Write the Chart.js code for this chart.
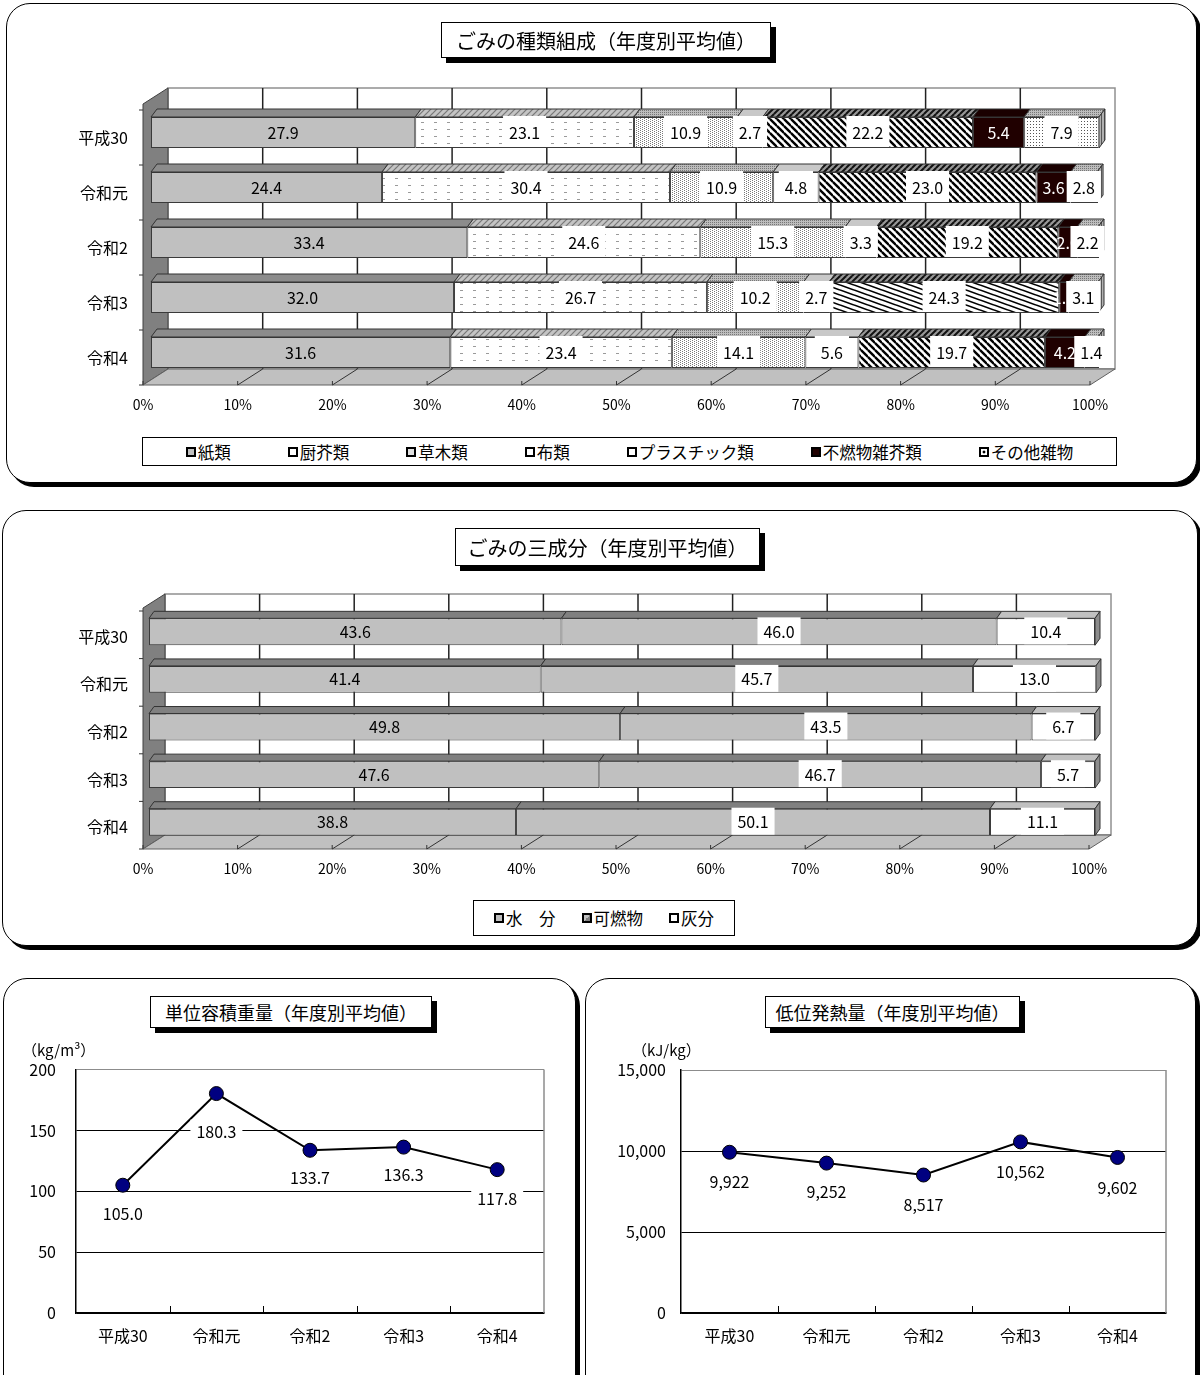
<!DOCTYPE html>
<html lang="ja">
<head>
<meta charset="utf-8">
<title>ごみ質分析結果</title>
<script src="https://cdn.jsdelivr.net/npm/chart.js@4.4.1/dist/chart.umd.min.js"></script>
<style>
  html, body { margin: 0; padding: 0; background: #fff; }
  body { width: 1200px; height: 1375px; position: relative; overflow: hidden;
         font-family: "Noto Sans CJK JP", "Noto Sans", sans-serif; color: #000; }
  .panel { position: absolute; border: 1px solid #000; border-radius: 24px;
           box-shadow: 4px 4px 0 #000; background: #fff; box-sizing: border-box; }
  canvas { position: absolute; }
  .title { position: absolute; border: 1px solid #000; background: #fff; box-shadow: 5px 5px 0 #000;
           box-sizing: border-box; display: flex; align-items: center; justify-content: center;
           white-space: nowrap; z-index: 5; }
  .legend { position: absolute; border: 1px solid #000; box-sizing: border-box; background: #fff;
            display: flex; align-items: center; justify-content: center; font-size: 16.5px; z-index: 5; }
  .li { display: flex; align-items: center; white-space: nowrap; }
  .mk { display: inline-block; width: 6px; height: 6px; border: 2px solid #000; margin-right: 2px; background: #fff; }
  .unit { position: absolute; font-size: 15px; white-space: nowrap; }
</style>
</head>
<body>

<div class="panel" style="left:6px;top:3px;width:1191px;height:480px;"></div>
<div class="panel" style="left:2px;top:510px;width:1196px;height:436px;"></div>
<div class="panel" style="left:3px;top:978px;width:573px;height:430px;"></div>
<div class="panel" style="left:585px;top:978px;width:611px;height:430px;"></div>

<canvas id="comp" width="1200" height="430" style="left:0;top:0;"></canvas>
<canvas id="three" width="1200" height="330" style="left:0;top:560px;"></canvas>
<canvas id="dens" width="578" height="320" style="left:0;top:1040px;"></canvas>
<canvas id="heat" width="618" height="320" style="left:580px;top:1040px;"></canvas>

<div class="title" style="left:441px;top:22px;width:330px;height:36px;font-size:20px;">ごみの種類組成（年度別平均値）</div>
<div class="title" style="left:455px;top:528px;width:305px;height:38px;font-size:20px;">ごみの三成分（年度別平均値）</div>
<div class="title" style="left:150px;top:996px;width:282px;height:32px;font-size:18px;">単位容積重量（年度別平均値）</div>
<div class="title" style="left:765px;top:996px;width:255px;height:32px;font-size:18px;">低位発熱量（年度別平均値）</div>

<div class="legend" style="left:142px;top:437px;width:975px;height:29px;gap:57px;">
  <span class="li"><span class="mk" style="background:#c0c0c0"></span>紙類</span>
  <span class="li"><span class="mk"></span>厨芥類</span>
  <span class="li"><span class="mk" style="background:#e0e0e0"></span>草木類</span>
  <span class="li"><span class="mk"></span>布類</span>
  <span class="li"><span class="mk"></span>プラスチック類</span>
  <span class="li"><span class="mk" style="background:#200000"></span>不燃物雑芥類</span>
  <span class="li"><span class="mk" style="background:radial-gradient(#000 30%, #fff 40%)"></span>その他雑物</span>
</div>
<div class="legend" style="left:473px;top:900px;width:262px;height:36px;gap:26px;">
  <span class="li"><span class="mk" style="background:#c0c0c0"></span>水　分</span>
  <span class="li"><span class="mk" style="background:linear-gradient(135deg,#c0c0c0 50%,#808080 50%)"></span>可燃物</span>
  <span class="li"><span class="mk"></span>灰分</span>
</div>

<div class="unit" style="left:22px;top:1039px;">（kg/m³）</div>
<div class="unit" style="left:632px;top:1039px;">（kJ/kg）</div>

<script>
// ---- data ----
const years = ['平成30', '令和元', '令和2', '令和3', '令和4'];

// composition by type (%)
const paper    = [27.9, 24.4, 33.4, 32.0, 31.6];
const kitchen  = [23.1, 30.4, 24.6, 26.7, 23.4];
const grass    = [10.9, 10.9, 15.3, 10.2, 14.1];
const cloth    = [2.7, 4.8, 3.3, 2.7, 5.6];
const plastic  = [22.2, 23.0, 19.2, 24.3, 19.7];
const noncomb  = [5.4, 3.6, 2.0, 1.0, 4.2];
const others   = [7.9, 2.8, 2.2, 3.1, 1.4];

// three components (%)
const moisture    = [43.6, 41.4, 49.8, 47.6, 38.8];
const combustible = [46.0, 45.7, 43.5, 46.7, 50.1];
const ash         = [10.4, 13.0, 6.7, 5.7, 11.1];

// bulk density (kg/m3) and lower heating value (kJ/kg)
const density = [105.0, 180.3, 133.7, 136.3, 117.8];
const heatValue = [9922, 9252, 8517, 10562, 9602];

const pctTicks = [0, 10, 20, 30, 40, 50, 60, 70, 80, 90, 100];

// ---- common ----
const FONT = '"Noto Sans CJK JP", "Noto Sans", sans-serif';
Chart.defaults.font.family = FONT;
Chart.defaults.color = '#000';

function tile(w, h, bg, draw) {
  const c = document.createElement('canvas');
  c.width = w; c.height = h;
  const g = c.getContext('2d');
  if (bg) { g.fillStyle = bg; g.fillRect(0, 0, w, h); }
  draw(g);
  return g.createPattern(c, 'repeat');
}
function stripes(w, h, lw, color, bg, up) {
  return tile(w, h, bg, g => {
    g.strokeStyle = color; g.lineWidth = lw;
    for (const [ox, oy] of [[0, 0], [-w, 0], [w, 0], [0, -h], [0, h]]) {
      g.beginPath();
      if (up) { g.moveTo(ox, oy + h); g.lineTo(ox + w, oy); }
      else { g.moveTo(ox, oy); g.lineTo(ox + w, oy + h); }
      g.stroke();
    }
  });
}
const dashFill = tile(13, 7, '#fff', g => { g.fillStyle = '#9a9a9a'; g.fillRect(5, 3, 3, 1); });
const speckle = tile(4, 2, '#fff', g => { g.fillStyle = '#7a7a7a'; g.fillRect(0, 0, 1, 1); g.fillRect(2, 1, 1, 1); });
const dotGrid = tile(3, 3, '#fff', g => { g.fillStyle = '#555'; g.fillRect(1, 1, 1, 1); });
const diag = stripes(7, 7, 2.4, '#000', '#fff', false);
const diagFlat = stripes(14, 5, 1.6, '#000', '#fff', false);
const topDash = stripes(6, 6, 1.2, '#777', '#c4c4c4', true);
const topSpeck = tile(2, 2, '#bdbdbd', g => { g.fillStyle = '#777'; g.fillRect(0, 0, 1, 1); });
const topDiag = stripes(6, 6, 2, '#111', '#999', true);
const endStripe = tile(3, 1, '#b0b0b0', g => { g.fillStyle = '#555'; g.fillRect(0, 0, 1, 1); });

// 3D box look for stacked horizontal bars: back wall, left wall, floor, bar tops/ends, value labels
function make3d(cfg) {
  return {
    id: 'box3d',
    beforeDatasetsDraw(chart) {
      const { ctx, chartArea: a, scales: { x } } = chart;
      const fx = v => x.getPixelForValue(v) - cfg.front;
      const yF = a.bottom + cfg.floorDrop;
      const yB = yF - cfg.dy;
      const yT = a.top - cfg.wallRise;
      const x0 = fx(0), x1 = fx(100), dx = cfg.dx;
      const poly = (pts, fill, stroke) => {
        ctx.beginPath();
        pts.forEach(([px, py], i) => i ? ctx.lineTo(px, py) : ctx.moveTo(px, py));
        ctx.closePath();
        ctx.fillStyle = fill; ctx.fill();
        ctx.strokeStyle = stroke; ctx.stroke();
      };
      ctx.save();
      ctx.lineWidth = 1;
      // back wall
      ctx.fillStyle = '#fff';
      ctx.fillRect(x0 + dx, yT, x1 - x0, yB - yT);
      ctx.strokeStyle = '#909090'; ctx.lineWidth = 1.5;
      ctx.strokeRect(x0 + dx, yT, x1 - x0, yB - yT);
      ctx.strokeStyle = '#222'; ctx.lineWidth = 1.5;
      pctTicks.forEach(v => {
        if (v === 0 || v === 100) return;
        const gx = fx(v) + dx;
        ctx.beginPath(); ctx.moveTo(gx, yT); ctx.lineTo(gx, yB); ctx.stroke();
      });
      ctx.lineWidth = 1;
      // left wall
      poly([[x0, yT + cfg.dy], [x0 + dx, yT], [x0 + dx, yB], [x0, yF]], '#808080', '#404040');
      // floor
      poly([[x0, yF], [x1, yF], [x1 + dx, yB], [x0 + dx, yB]], '#c0c0c0', '#606060');
      ctx.strokeStyle = '#333';
      pctTicks.forEach(v => {
        if (v === 0 || v === 100) return;
        ctx.beginPath(); ctx.moveTo(fx(v), yF); ctx.lineTo(fx(v) + dx, yB); ctx.stroke();
      });
      pctTicks.forEach(v => {
        ctx.beginPath(); ctx.moveTo(fx(v), yF - 4); ctx.lineTo(fx(v), yF); ctx.stroke();
      });
      // ticks on the left wall edge at category boundaries
      const n = chart.data.labels.length, step = a.height / n;
      for (let i = 0; i <= n; i++) {
        const ty = a.top + i * step + cfg.floorDrop;
        ctx.beginPath(); ctx.moveTo(x0 - 4, ty); ctx.lineTo(x0, ty); ctx.stroke();
      }
      ctx.restore();
    },
    afterDatasetsDraw(chart) {
      const { ctx } = chart;
      const sets = chart.data.datasets;
      const last = sets.length - 1;
      ctx.save();
      ctx.lineWidth = 1;
      ctx.strokeStyle = '#333';
      // top faces and right end faces
      sets.forEach((ds, d) => {
        chart.getDatasetMeta(d).data.forEach(el => {
          const p = el.getProps(['x', 'y', 'base', 'height'], true);
          const l = Math.min(p.x, p.base), r = Math.max(p.x, p.base);
          const t = p.y - p.height / 2, b = p.y + p.height / 2;
          ctx.beginPath();
          ctx.moveTo(l, t); ctx.lineTo(r, t); ctx.lineTo(r + cfg.bdx, t - cfg.bdy); ctx.lineTo(l + cfg.bdx, t - cfg.bdy);
          ctx.closePath();
          ctx.fillStyle = cfg.topFill[d]; ctx.fill(); ctx.stroke();
          if (d === last) {
            ctx.beginPath();
            ctx.moveTo(r, t); ctx.lineTo(r + cfg.bdx, t - cfg.bdy); ctx.lineTo(r + cfg.bdx, b - cfg.bdy); ctx.lineTo(r, b);
            ctx.closePath();
            ctx.fillStyle = cfg.endFill; ctx.fill(); ctx.stroke();
          }
        });
      });
      // value labels
      ctx.font = '16px ' + FONT;
      ctx.textAlign = 'center';
      ctx.textBaseline = 'middle';
      sets.forEach((ds, d) => {
        chart.getDatasetMeta(d).data.forEach((el, i) => {
          const p = el.getProps(['x', 'y', 'base', 'height'], true);
          const cx = (p.x + p.base) / 2;
          const txt = ds.data[i].toFixed(1);
          const tw = ctx.measureText(txt).width;
          if (cfg.boxed[d]) {
            ctx.fillStyle = '#fff';
            ctx.fillRect(cx - tw / 2 - 6, p.y - p.height / 2 - 1, tw + 12, p.height);
          }
          ctx.fillStyle = cfg.textColor[d];
          ctx.fillText(txt, cx, p.y);
        });
      });
      ctx.restore();
    }
  };
}

function pctScales(yWidth, labelOff, tickPad, yPad) {
  return {
    x: {
      stacked: true, min: 0, max: 100,
      ticks: { stepSize: 10, callback: v => v + '%', labelOffset: -labelOff, padding: tickPad,
               font: { size: 14 }, maxRotation: 0, autoSkip: false },
      grid: { display: false, drawTicks: false },
      border: { display: false },
      afterFit: s => { s.height = 30; }
    },
    y: {
      stacked: true,
      ticks: { labelOffset: 5, padding: yPad, font: { size: 16 } },
      grid: { display: false, drawTicks: false },
      border: { display: false },
      afterFit: s => { s.width = yWidth; }
    }
  };
}

function barSet(label, data, bg, barPct) {
  return { label, data, backgroundColor: bg, borderColor: '#3a3a3a', borderWidth: 1,
           borderSkipped: false, barPercentage: barPct, categoryPercentage: 1 };
}

// ---- chart 1: composition by type ----
const compPct = 31 / 55;
new Chart(document.getElementById('comp'), {
  type: 'bar',
  data: {
    labels: years,
    datasets: [
      barSet('紙類', paper, '#c0c0c0', compPct),
      barSet('厨芥類', kitchen, dashFill, compPct),
      barSet('草木類', grass, speckle, compPct),
      barSet('布類', cloth, '#ffffff', compPct),
      barSet('プラスチック類', plastic, [diag, diag, diag, diagFlat, diag], compPct),
      barSet('不燃物雑芥類', noncomb, '#200000', compPct),
      barSet('その他雑物', others, dotGrid, compPct)
    ]
  },
  options: {
    indexAxis: 'y', responsive: false, animation: false,
    layout: { padding: { left: 10, right: 102, top: 105, bottom: 20 } },
    plugins: { legend: { display: false }, tooltip: { enabled: false } },
    scales: pctScales(141, 8, 16, 23)
  },
  plugins: [make3d({
    front: 8, dx: 25, dy: 16, floorDrop: 5, wallRise: 17, bdx: 6, bdy: 8,
    topFill: ['#8c8c8c', topDash, topSpeck, '#c8c8c8', topDiag, '#1a0000', topSpeck],
    endFill: endStripe,
    boxed: [false, true, true, true, true, false, true],
    textColor: ['#000', '#000', '#000', '#000', '#000', '#fff', '#000']
  })]
});

// ---- chart 2: three components ----
const threePct = 27 / 47.7;
new Chart(document.getElementById('three'), {
  type: 'bar',
  data: {
    labels: years,
    datasets: [
      barSet('水分', moisture, '#c0c0c0', threePct),
      barSet('可燃物', combustible, '#c0c0c0', threePct),
      barSet('灰分', ash, '#ffffff', threePct)
    ]
  },
  options: {
    indexAxis: 'y', responsive: false, animation: false,
    layout: { padding: { left: 10, right: 105, top: 48, bottom: 14 } },
    plugins: { legend: { display: false }, tooltip: { enabled: false } },
    scales: pctScales(139, 6, 14, 21)
  },
  plugins: [make3d({
    front: 6, dx: 22, dy: 14, floorDrop: 3, wallRise: 14, bdx: 5, bdy: 7,
    topFill: ['#808080', '#808080', '#c0c0c0'],
    endFill: '#8c8c8c',
    boxed: [false, true, true],
    textColor: ['#000', '#000', '#000']
  })]
});

// ---- line charts ----
function makeLineDecor(fmt, drop) {
  return {
    id: 'lineDecor',
    afterDatasetsDraw(chart) {
      const { ctx, chartArea: a } = chart;
      ctx.save();
      ctx.strokeStyle = '#8c8c8c'; ctx.lineWidth = 1.5;
      ctx.beginPath(); ctx.moveTo(a.right, a.top); ctx.lineTo(a.right, a.bottom); ctx.stroke();
      ctx.strokeStyle = '#000'; ctx.lineWidth = 1;
      const n = chart.data.labels.length, w = a.width / n;
      for (let i = 1; i < n; i++) {
        const tx = Math.round(a.left + i * w) + 0.5;
        ctx.beginPath(); ctx.moveTo(tx, a.bottom); ctx.lineTo(tx, a.bottom - 7); ctx.stroke();
      }
      const meta = chart.getDatasetMeta(0);
      const data = chart.data.datasets[0].data;
      ctx.font = '16px ' + FONT;
      ctx.textAlign = 'center';
      ctx.textBaseline = 'middle';
      meta.data.forEach((pt, i) => {
        const txt = fmt(data[i]);
        const tw = ctx.measureText(txt).width;
        const ly = pt.y + drop[i];
        ctx.fillStyle = '#fff';
        ctx.fillRect(pt.x - tw / 2 - 6, ly - 12, tw + 12, 24);
        ctx.fillStyle = '#000';
        ctx.fillText(txt, pt.x, ly);
      });
      ctx.restore();
    }
  };
}

function lineChart(id, values, max, step, tickFmt, valueFmt, yWidth, yPad, rightPad, topPad, drop) {
  new Chart(document.getElementById(id), {
    type: 'line',
    data: {
      labels: years,
      datasets: [{
        data: values, borderColor: '#000', borderWidth: 2, tension: 0,
        pointRadius: 7, pointBackgroundColor: '#000080', pointBorderColor: '#000', pointBorderWidth: 1
      }]
    },
    options: {
      responsive: false, animation: false,
      layout: { padding: { left: 0, right: rightPad, top: topPad, bottom: 7 } },
      plugins: { legend: { display: false }, tooltip: { enabled: false } },
      scales: {
        x: {
          offset: true,
          grid: { display: false, drawTicks: false },
          border: { color: '#000', width: 1.5 },
          ticks: { font: { size: 16 }, padding: 13 },
          afterFit: s => { s.height = 40; }
        },
        y: {
          min: 0, max: max,
          ticks: { stepSize: step, font: { size: 16 }, padding: yPad, callback: tickFmt },
          grid: { drawTicks: false, color: c => (c.tick && c.tick.value === max) ? '#8c8c8c' : '#000', lineWidth: 1 },
          border: { color: '#000', width: 1.5 },
          afterFit: s => { s.width = yWidth; }
        }
      }
    },
    plugins: [makeLineDecor(valueFmt, drop)]
  });
}

lineChart('dens', density, 200, 50, v => String(v), v => v.toFixed(1),
          76, 20, 34, 29, [29, 38, 28, 28, 29]);
lineChart('heat', heatValue, 15000, 5000, v => v.toLocaleString('en-US'), v => v.toLocaleString('en-US'),
          101, 15, 32, 30, [30, 29, 30, 30, 30]);
</script>
</body>
</html>
